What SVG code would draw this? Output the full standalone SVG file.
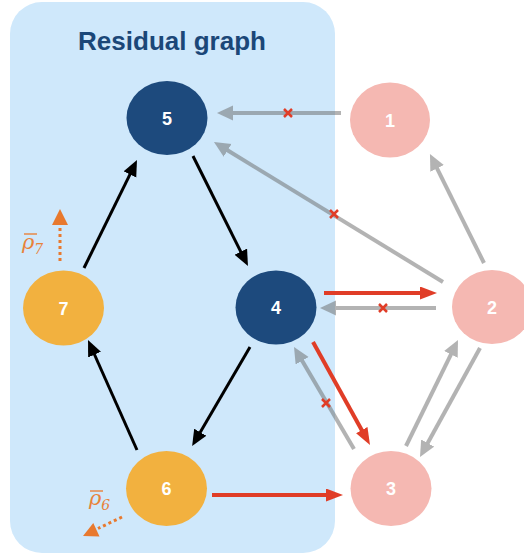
<svg xmlns="http://www.w3.org/2000/svg" xmlns:xlink="http://www.w3.org/1999/xlink" width="524" height="556" viewBox="0 0 524 556">
<style>
.title{font-family:"Liberation Sans",Arial,sans-serif;font-weight:bold;font-size:26px;fill:#1b4778}
.lbl{font-family:"Liberation Sans",Arial,sans-serif;font-weight:bold;font-size:18px;fill:#ffffff}
.rho{font-family:"DejaVu Serif","Liberation Serif",serif;font-style:italic;fill:#e8823a}
.dark{fill:#1d4a7d}
.orange{fill:#f2b13f}
.pink{fill:#f5b8b2}
.gray{stroke:#696969;stroke-width:4;fill:none;marker-end:url(#ag)}
.red{stroke:#e03d27;stroke-width:4;fill:none;marker-end:url(#ar)}
.black{stroke:#000;stroke-width:3;fill:none;marker-end:url(#ab)}
.dot{stroke:#e8792e;stroke-width:3;stroke-dasharray:3 3;fill:none}
.x{stroke:#e03d27;stroke-width:2.5;fill:none}
</style>
<defs>
<marker id="ag" markerUnits="userSpaceOnUse" markerWidth="16" markerHeight="16" refX="4" refY="7.5" orient="auto"><path d="M0,0 L16,7.5 L0,15 z" fill="#696969"/></marker>
<marker id="ar" markerUnits="userSpaceOnUse" markerWidth="18" markerHeight="14" refX="5" refY="6.5" orient="auto"><path d="M0,0 L17,6.5 L0,13 z" fill="#e03d27"/></marker>
<marker id="ab" markerUnits="userSpaceOnUse" markerWidth="16" markerHeight="16" refX="4" refY="7" orient="auto"><path d="M0,0 L16,7 L0,14 z" fill="#000"/></marker>
<path id="cross" d="M-4,-4 L4,4 M-4,4 L4,-4"/>
</defs>

<rect x="10" y="2" width="325" height="551" rx="32" fill="#cfe8fb"/>
<text class="title" x="172" y="50" text-anchor="middle">Residual graph</text>

<g id="connectors">
  <g opacity="0.5">
    <path class="gray" d="M341,113 L229,113"/>
    <path class="gray" d="M443,282 L224.2,148.3"/>
    <path class="gray" d="M484,263 L435.3,164.8"/>
    <path class="gray" d="M436,308 L332,308"/>
    <path class="gray" d="M354,449 L300.1,357.3"/>
    <path class="gray" d="M406,446 L452.7,350.8"/>
    <path class="gray" d="M480,348 L425.8,446.5"/>
  </g>
  <path class="red" d="M324,293 L425,293"/>
  <path class="red" d="M313,342 L364.2,434.5"/>
  <path class="red" d="M212,495 L331,495"/>
  <path class="black" d="M193,156 L242.6,255.3"/>
  <path class="black" d="M250,347 L198.2,435.7"/>
  <path class="black" d="M137,450 L92.9,351"/>
  <path class="black" d="M84,268 L131.7,170.8"/>
  <g class="x">
    <use xlink:href="#cross" x="288" y="113"/>
    <use xlink:href="#cross" x="334" y="214"/>
    <use xlink:href="#cross" x="383" y="308"/>
    <use xlink:href="#cross" x="326" y="403"/>
  </g>
</g>

<g id="rho7">
  <path class="dot" d="M60,261 L60,226"/>
  <polygon points="60,209 52,225 68,225" fill="#e8792e"/>
  <line x1="24" y1="234" x2="37" y2="234" stroke="#e8823a" stroke-width="1.4"/>
  <text class="rho" x="22" y="249" font-size="21">ρ<tspan font-size="14" dy="5">7</tspan></text>
</g>
<g id="rho6">
  <path class="dot" d="M122,517 L98,528.5"/>
  <polygon points="83,536 99.5,536.5 93.3,523" fill="#e8792e"/>
  <line x1="90" y1="491" x2="103" y2="491" stroke="#e8823a" stroke-width="1.4"/>
  <text class="rho" x="89" y="505" font-size="21">ρ<tspan font-size="14" dy="5">6</tspan></text>
</g>

<g id="node5"><ellipse class="dark" cx="167" cy="118" rx="40.5" ry="37"/><text class="lbl" x="167" y="124.5" text-anchor="middle">5</text></g>
<g id="node1"><ellipse class="pink" cx="390" cy="120" rx="40" ry="37.5"/><text class="lbl" x="390" y="126.5" text-anchor="middle">1</text></g>
<g id="node7"><ellipse class="orange" cx="63.5" cy="308" rx="40.5" ry="37.5"/><text class="lbl" x="63.5" y="314.5" text-anchor="middle">7</text></g>
<g id="node4"><ellipse class="dark" cx="276" cy="307.5" rx="40.5" ry="37"/><text class="lbl" x="276" y="314" text-anchor="middle">4</text></g>
<g id="node2"><ellipse class="pink" cx="492" cy="307" rx="40" ry="37"/><text class="lbl" x="492" y="313.5" text-anchor="middle">2</text></g>
<g id="node6"><ellipse class="orange" cx="166.5" cy="488.5" rx="40.5" ry="37.5"/><text class="lbl" x="166.5" y="495" text-anchor="middle">6</text></g>
<g id="node3"><ellipse class="pink" cx="391" cy="488.5" rx="40.5" ry="37.5"/><text class="lbl" x="391" y="495" text-anchor="middle">3</text></g>
</svg>
